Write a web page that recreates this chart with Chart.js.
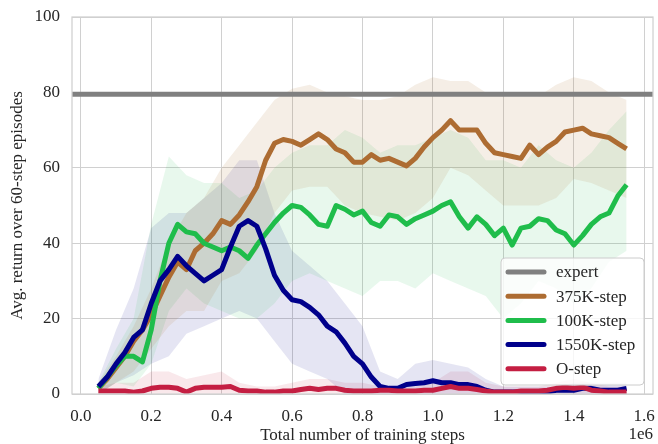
<!DOCTYPE html>
<html>
<head>
<meta charset="utf-8">
<script src="https://cdn.jsdelivr.net/npm/chart.js@4.4.1/dist/chart.umd.min.js"></script>
<style>
    body { margin: 0; background: #ffffff; }
    canvas { display: block; }
</style>
</head>
<body>
<canvas id="returnChart" width="658" height="444"></canvas>
<script>
// Training steps for the smoothed curves
const steps = [
    50000, 75000, 100000, 125000, 150000, 175000, 200000, 225000, 250000, 275000, 300000,
    325000, 350000, 375000, 400000, 425000, 450000, 475000, 500000, 525000, 550000,
    575000, 600000, 625000, 650000, 675000, 700000, 725000, 750000, 775000, 800000,
    825000, 850000, 875000, 900000, 925000, 950000, 975000, 1000000, 1025000, 1050000,
    1075000, 1100000, 1125000, 1150000, 1175000, 1200000, 1225000, 1250000, 1275000, 1300000,
    1325000, 1350000, 1375000, 1400000, 1425000, 1450000, 1475000, 1500000, 1525000, 1550000
];

// Mean return per run
const step375K = [
    1.5, 4, 7, 10, 14, 17, 21, 26, 31, 35, 33,
    38, 40, 42.5, 46, 45, 47.5, 51, 55, 62, 66.5,
    67.5, 67, 66, 67.5, 69, 67.5, 65, 64, 61.5, 61.5,
    63.5, 62, 62.5, 61.5, 60.5, 62.5, 65.5, 68, 70, 72.5,
    70, 70, 70, 66.5, 64, 63.5, 63, 62.5, 66, 63.5,
    65.5, 67, 69.5, 70, 70.5, 69, 68.5, 68, 66.5, 65
];
const step100K = [
    1.5, 4.5, 7.5, 10, 10, 8.5, 17, 30, 40, 45, 43,
    42.5, 40, 39, 38, 39, 38, 36, 39.5, 42.5, 45.5,
    48, 50, 49.5, 47.5, 45, 44.5, 50, 49, 47.5, 48.5,
    45.5, 44.5, 47.5, 47, 45, 46.5, 47.5, 48.5, 50, 51,
    47, 44, 47, 45, 42, 44, 39.5, 44, 44.5, 46.5,
    46, 43.5, 42.5, 39.5, 42, 45, 47, 48, 52.5, 55.5
];
const step1550K = [
    2, 4.5, 8, 11, 15, 17, 24, 30, 33, 36.5, 34,
    32, 30, 31.5, 33, 39, 44.5, 46, 44.5, 38.5, 31.5,
    27.5, 25, 24.5, 23, 21, 18, 16.5, 13.5, 10, 8,
    4.5, 2, 1.5, 1.5, 2.5, 2.8, 3, 3.5, 3, 3,
    2.5, 2.5, 2, 1, 0.5, 0.5, 0.5, 0.5, 0.5, 0.5,
    0.5, 1, 1, 1, 1.5, 1.5, 1, 1, 1, 1.5
];
const step0 = [
    0.8, 0.8, 0.8, 0.8, 0.5, 0.8, 1.5, 1.8, 1.8, 1.5, 0.5,
    1.5, 1.8, 1.8, 1.8, 2.0, 1.0, 0.8, 0.8, 0.5, 0.5,
    0.8, 0.8, 1.2, 1.5, 1.2, 1.5, 1.5, 1.0, 0.8, 0.8,
    0.8, 1.0, 1.0, 0.8, 0.8, 0.8, 1.0, 1.0, 1.5, 2.0,
    1.5, 1.5, 1.2, 0.8, 0.5, 0.5, 0.5, 0.8, 0.8, 0.8,
    1.0, 1.5, 1.8, 1.5, 1.8, 1.0, 0.8, 0.5, 0.5, 0.5
];
const expertReturn = 79.5;

// Spread (shaded bands), sampled coarser
const bandSteps = [
    50000, 100000, 150000, 200000, 250000, 300000, 350000, 400000, 450000, 500000,
    550000, 600000, 650000, 700000, 750000, 800000, 850000, 900000, 950000, 1000000,
    1050000, 1100000, 1150000, 1200000, 1250000, 1300000, 1350000, 1400000, 1450000, 1500000,
    1550000
];
const upper375K = [3, 10, 18, 28, 40, 48, 52, 60, 66, 72, 78, 81, 82, 80, 79, 78, 78, 79, 82, 84, 83, 83, 80, 79, 79, 79, 82, 84, 83, 80, 78];
const lower375K = [0, 3, 6, 12, 18, 22, 22, 30, 32, 38, 48, 54, 55, 55, 50, 48, 47, 46, 48, 52, 60, 58, 54, 50, 50, 50, 52, 57, 56, 54, 52];
const upper100K = [3, 12, 20, 45, 63, 58, 56, 56, 52, 54, 60, 64, 66, 66, 70, 68, 64, 66, 66, 68, 70, 68, 62, 62, 60, 66, 62, 60, 64, 70, 75];
const lower100K = [0, 3, 2, 8, 22, 28, 24, 22, 20, 20, 24, 30, 32, 30, 28, 26, 30, 30, 28, 32, 30, 28, 26, 20, 24, 30, 28, 24, 28, 35, 38];
const upper1550K = [4, 17, 28, 44, 48, 48, 52, 56, 62, 62, 48, 38, 34, 30, 24, 18, 6, 4, 8, 9, 8, 7, 4, 2, 2, 2, 2, 3, 3, 3, 3];
const lower1550K = [0, 3, 5, 8, 10, 16, 18, 20, 22, 20, 14, 8, 6, 4, 0, 0, 0, 0, 0, 0, 0, 0, 0, 0, 0, 0, 0, 0, 0, 0, 0];
const upper0 = [2, 3, 3, 6, 6, 4, 5, 6, 3, 2, 2, 3, 4, 4, 3, 3, 2, 2, 2, 3, 6, 6, 3, 2, 2, 2, 3, 4, 3, 2, 2];
const lower0 = [0, 0, 0, 0, 0, 0, 0, 0, 0, 0, 0, 0, 0, 0, 0, 0, 0, 0, 0, 0, 0, 0, 0, 0, 0, 0, 0, 0, 0, 0, 0];

// Axis ticks
const xTicks = [0, 200000, 400000, 600000, 800000, 1000000, 1200000, 1400000, 1600000];
const yTicks = [0, 20, 40, 60, 80, 100];
const xMin = -25000;
const xMax = 1625000;

const serif = "'Liberation Serif', 'DejaVu Serif', serif";
const textColor = '#262626';
const gridColor = '#d0d0d0';

document.addEventListener('DOMContentLoaded', function () {
    const ctx = document.getElementById('returnChart').getContext('2d');

    const toPoints = (xs, ys) => xs.map((x, i) => ({ x: x, y: ys[i] }));

    const datasets = [];

    // mean curves (lower order = drawn on top)
    const runs = [
        { label: 'expert', color: '#808080', data: [{ x: xMin, y: expertReturn }, { x: xMax, y: expertReturn }], order: 5 },
        { label: '375K-step', color: '#ad6c32', data: toPoints(steps, step375K), order: 4 },
        { label: '100K-step', color: '#1fbd4b', data: toPoints(steps, step100K), order: 3 },
        { label: '1550K-step', color: '#00008b', data: toPoints(steps, step1550K), order: 2 },
        { label: 'O-step', color: '#c41e42', data: toPoints(steps, step0), order: 1 },
    ];
    runs.forEach(function (r) {
        datasets.push({
            label: r.label,
            data: r.data,
            borderColor: r.color,
            borderWidth: 5,
            borderJoinStyle: 'round',
            borderCapStyle: 'butt',
            pointRadius: 0,
            fill: false,
            tension: 0,
            order: r.order,
        });
    });

    // shaded bands: an invisible lower edge plus an upper edge filled down to it
    function addBand(lower, upper, fillColor) {
        const lowerIndex = datasets.length;
        datasets.push({
            data: toPoints(bandSteps, lower),
            borderWidth: 0,
            pointRadius: 0,
            fill: false,
            order: 20,
            isBand: true,
        });
        datasets.push({
            data: toPoints(bandSteps, upper),
            borderWidth: 0,
            pointRadius: 0,
            backgroundColor: fillColor,
            fill: { target: lowerIndex },
            order: 20,
            isBand: true,
        });
    }
    addBand(lower375K, upper375K, 'rgba(176,112,52,0.12)');
    addBand(lower100K, upper100K, 'rgba(30,190,75,0.10)');
    addBand(lower1550K, upper1550K, 'rgba(0,0,139,0.10)');
    addBand(lower0, upper0, 'rgba(200,30,60,0.10)');

    // frame around the plot, the "1e6" offset text and the legend box
    const decorations = {
        id: 'decorations',
        afterDraw(chart) {
            const c = chart.ctx;
            const area = chart.chartArea;
            c.save();
            c.strokeStyle = gridColor;
            c.lineWidth = 1.25;
            c.strokeRect(area.left, area.top, area.right - area.left, area.bottom - area.top);

            c.fillStyle = textColor;
            c.font = '17px ' + serif;
            c.textAlign = 'right';
            c.textBaseline = 'middle';
            c.fillText('1e6', area.right, 435);

            // legend
            const items = chart.data.datasets.filter(d => !d.isBand);
            const boxW = 143, boxH = 127;
            const bx = area.right - 9 - boxW;
            const by = area.bottom - 9 - boxH;
            c.beginPath();
            c.roundRect(bx, by, boxW, boxH, 4);
            c.fillStyle = 'rgba(255,255,255,0.8)';
            c.fill();
            c.strokeStyle = '#cccccc';
            c.lineWidth = 1;
            c.stroke();

            c.font = '17px ' + serif;
            c.textAlign = 'left';
            items.forEach(function (d, i) {
                const y = by + 14 + i * 24.2;
                c.beginPath();
                c.moveTo(bx + 7, y);
                c.lineTo(bx + 43, y);
                c.strokeStyle = d.borderColor;
                c.lineWidth = 5;
                c.lineCap = 'round';
                c.stroke();
                c.fillStyle = textColor;
                c.fillText(d.label, bx + 55, y + 1);
            });
            c.restore();
        }
    };

    new Chart(ctx, {
        type: 'line',
        data: { datasets: datasets },
        plugins: [decorations],
        options: {
            responsive: false,
            animation: false,
            devicePixelRatio: 1,
            layout: { padding: { top: 17, right: 5, left: 0, bottom: 0 } },
            plugins: {
                legend: { display: false },
                tooltip: { enabled: false },
                filler: { propagate: false },
            },
            scales: {
                x: {
                    type: 'linear',
                    min: xMin,
                    max: xMax,
                    afterBuildTicks: function (scale) {
                        scale.ticks = xTicks.map(v => ({ value: v }));
                    },
                    afterFit: function (scale) {
                        scale.height = 50;
                        scale.paddingLeft = 0;
                        scale.paddingRight = 0;
                    },
                    ticks: {
                        padding: 12,
                        color: textColor,
                        font: { family: serif, size: 17 },
                        maxRotation: 0,
                        callback: v => (v / 1e6).toFixed(1),
                    },
                    grid: { color: gridColor, lineWidth: 1, drawTicks: false },
                    border: { display: false },
                    title: {
                        display: true,
                        text: 'Total number of training steps',
                        color: textColor,
                        font: { family: serif, size: 17, lineHeight: 1.0 },
                        padding: { top: 0, bottom: 0 },
                    },
                },
                y: {
                    min: 0,
                    max: 100,
                    afterBuildTicks: function (scale) {
                        scale.ticks = yTicks.map(v => ({ value: v }));
                    },
                    afterFit: function (scale) {
                        scale.width = 72;
                        scale.paddingTop = 0;
                        scale.paddingBottom = 0;
                    },
                    ticks: {
                        padding: 12,
                        color: textColor,
                        font: { family: serif, size: 17 },
                    },
                    grid: { color: gridColor, lineWidth: 1, drawTicks: false },
                    border: { display: false },
                    title: {
                        display: true,
                        text: 'Avg. return over 60-step episodes',
                        color: textColor,
                        font: { family: serif, size: 17 },
                        padding: { top: 7, bottom: 0 },
                    },
                },
            },
        },
    });
});
</script>
</body>
</html>
